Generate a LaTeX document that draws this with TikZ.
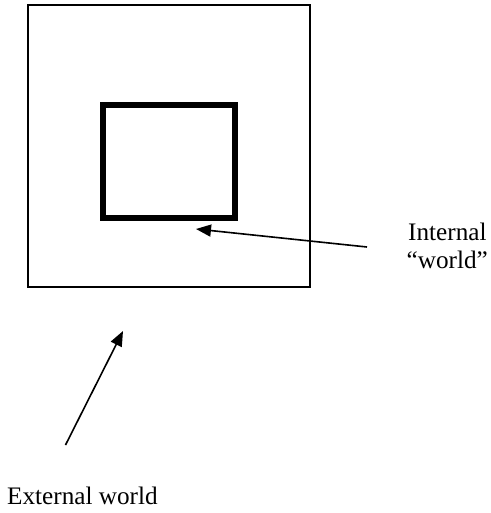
\documentclass[tikz,border=0pt]{standalone}
\usepackage{fontspec}
\setmainfont{Liberation Serif}
\usetikzlibrary{arrows.meta}
\begin{document}
\begin{tikzpicture}[x=1pt,y=-1pt,
  box/.style={draw=black,rectangle,inner sep=0pt,outer sep=0pt},
  lbl/.style={inner sep=0pt,anchor=base west,font=\fontsize{25.2pt}{28pt}\selectfont},
  ptr/.style={line width=1.6pt,-{Triangle[length=15pt,width=12pt]}}]
\useasboundingbox[fill=white] (0,0) rectangle (490,513);
\node[box,line width=1.5pt,minimum width=282pt,minimum height=282pt] (outer) at (169,146) {};
\node[box,line width=6.5pt,minimum width=132pt,minimum height=113pt] (inner) at (169,161.5) {};
\node[lbl] (internal) at (408,240) {Internal};
\node[lbl] (world) at (406.5,268) {“world”};
\node[lbl] (external) at (7,504) {External world};
\coordinate (t1) at (367,247);
\coordinate (h1) at (196,229);
\coordinate (t2) at (65.5,445);
\coordinate (h2) at (123,331);
\draw[ptr] (t1) -- (h1);
\draw[ptr] (t2) -- (h2);
\end{tikzpicture}
\end{document}
